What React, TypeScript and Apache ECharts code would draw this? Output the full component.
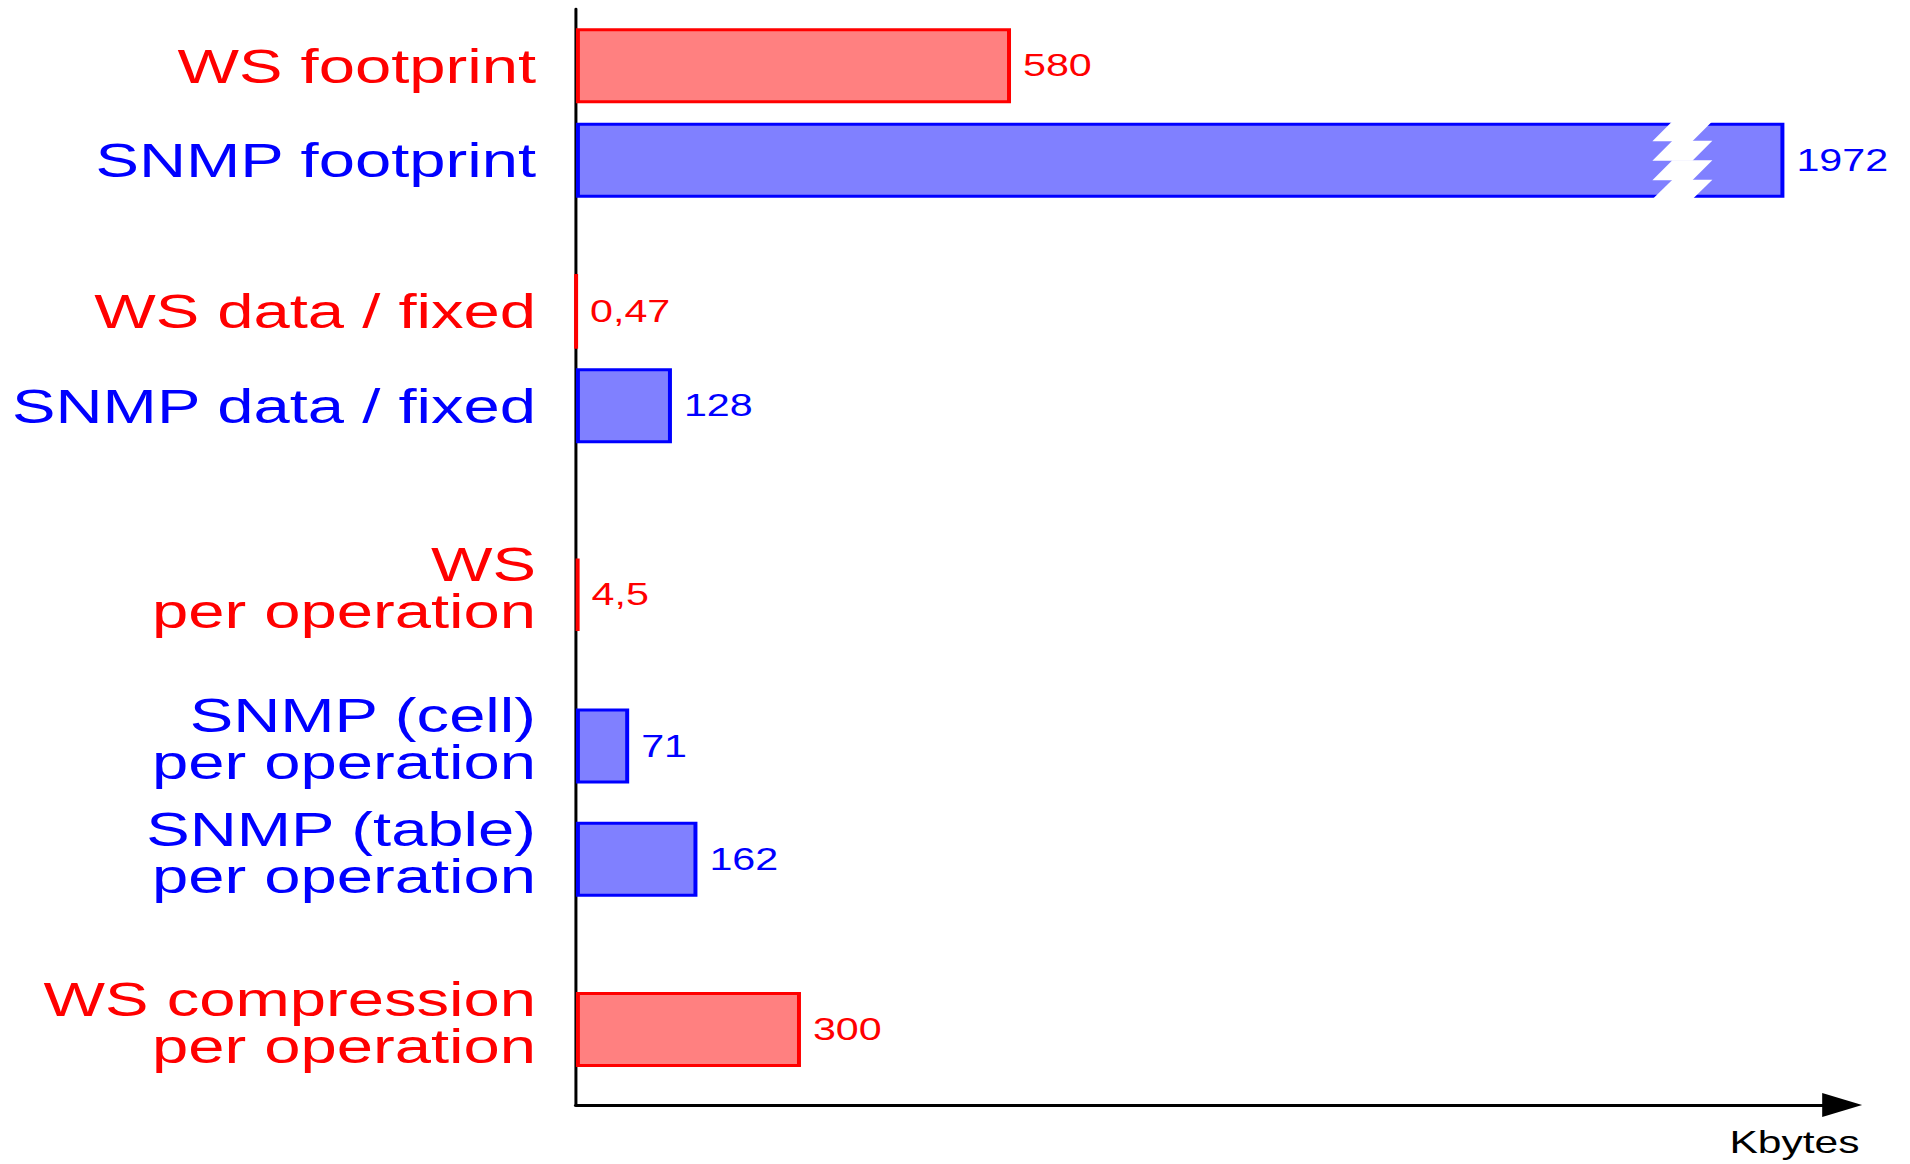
import React, { useEffect, useRef } from 'react';
import * as echarts from 'echarts';

// ---- data ----
const categories = [
  'WS footprint',
  'SNMP footprint',
  'WS data / fixed',
  'SNMP data / fixed',
  'WS\nper operation',
  'SNMP (cell)\nper operation',
  'SNMP (table)\nper operation',
  'WS compression\nper operation',
];
const groups = ['WS', 'SNMP', 'WS', 'SNMP', 'WS', 'SNMP', 'SNMP', 'WS'];
const values = [580, 1972, 0.47, 128, 4.5, 71, 162, 300];
const unitName = 'Kbytes';

// ---- layout (not data) ----
const rowSlots = [3, 8, 16, 21, 31, 39, 45, 54];
const slotCount = 59;
const axisBreak = { start: 1435, end: 1876, gap: 80 };
const xMax = 2049;
const BASE_W = 1436;
const BASE_H = 1164;
const S = 1910 / BASE_W;
const BAR_W = 75;
const BORDER = 3;
const FONT = "'Liberation Sans', Arial, Helvetica, sans-serif";

const palette: Record<string, { text: string; fill: string; border: string }> = {
  WS: { text: '#FF0000', fill: '#FF8080', border: '#FF0000' },
  SNMP: { text: '#0000FF', fill: '#8080FF', border: '#0000FF' },
};

export default function App() {
  const ref = useRef<HTMLDivElement>(null);

  useEffect(() => {
    if (!ref.current) return;
    const chart = echarts.init(ref.current, null, { renderer: 'svg' });

    const yData = Array.from({ length: slotCount }, (_, i) => {
      const k = rowSlots.indexOf(i);
      return k >= 0 ? categories[k] : `_${i}`;
    });

    const seriesData = Array.from({ length: slotCount }, (_, i) => {
      const k = rowSlots.indexOf(i);
      if (k < 0) return null;
      const p = palette[groups[k]];
      return {
        value: values[k],
        itemStyle: { color: p.fill, borderColor: p.border, borderWidth: BORDER },
        label: { color: p.text },
      };
    });

    const labelFormatter = (v: string) => {
      if (v.startsWith('_')) return '';
      const k = categories.indexOf(v);
      const g = groups[k] === 'WS' ? 'ws' : 'snmp';
      const lines = v.split('\n');
      let s = lines.map((l) => `{${g}|${l}}`).join('\n');
      if (lines.length > 1) s += '\n{sp| }';
      return s;
    };

    chart.setOption({
      animation: false,
      backgroundColor: '#ffffff',
      grid: { left: 433, right: 51, top: 9, bottom: 59, containLabel: false },
      xAxis: [
        {
          type: 'value',
          show: false,
          min: 0,
          max: xMax,
          breaks: [axisBreak],
          breakArea: { show: false, itemStyle: { opacity: 0, borderWidth: 0 } },
          splitLine: { show: false },
        },
        {
          type: 'value',
          position: 'bottom',
          min: 0,
          max: 1,
          axisLine: {
            show: true,
            onZero: false,
            lineStyle: { color: '#000000', width: 3 },
            symbol: ['none', 'triangle'],
            symbolSize: [24, 30],
          },
          axisTick: { show: false },
          axisLabel: { show: false },
          splitLine: { show: false },
          name: unitName,
          nameLocation: 'end',
          nameGap: 13,
          nameTextStyle: {
            color: '#000000',
            fontFamily: FONT,
            fontSize: 32,
            align: 'right',
            verticalAlign: 'top',
            padding: [21, 0, 0, 0],
          },
        },
      ],
      yAxis: {
        type: 'category',
        inverse: true,
        boundaryGap: false,
        data: yData,
        axisLine: { show: true, onZero: false, lineStyle: { color: '#000000', width: 3 / S } },
        axisTick: { show: false },
        splitLine: { show: false },
        axisLabel: {
          interval: 0,
          margin: 30,
          formatter: labelFormatter,
          rich: {
            ws: { color: palette.WS.text, fontFamily: FONT, fontSize: 49, lineHeight: 47 },
            snmp: { color: palette.SNMP.text, fontFamily: FONT, fontSize: 49, lineHeight: 47 },
            sp: { fontSize: 4, lineHeight: 14 },
          },
        },
      },
      series: [
        {
          type: 'bar',
          xAxisIndex: 0,
          yAxisIndex: 0,
          barWidth: BAR_W,
          data: seriesData,
          label: {
            show: true,
            position: 'right',
            distance: 9,
            fontFamily: FONT,
            fontSize: 31,
            formatter: (p: any) => String(p.value).replace('.', ','),
          },
        },
      ],
    });

    // break marker drawn on the broken bar, located through the axis scale
    const brokenIdx = values.indexOf(Math.max(...values));
    const x0 = chart.convertToPixel({ xAxisIndex: 0 }, axisBreak.start) as number;
    const x1 = chart.convertToPixel({ xAxisIndex: 0 }, axisBreak.end) as number;
    const yc = chart.convertToPixel({ yAxisIndex: 0 }, rowSlots[brokenIdx]) as number;
    const half = (BAR_W + BORDER) / 2;
    const segs = 4;
    const segH = (2 * half) / segs;
    const shear = (x1 - x0) / 3;
    const polys = [] as any[];
    for (let i = 0; i < segs; i++) {
      const yt = yc - half + i * segH;
      const yb = yt + segH + (i < segs - 1 ? 0.6 : 0);
      polys.push({
        type: 'polygon',
        z: 100,
        shape: {
          points: [
            [x0, yb],
            [x0 + shear, yt],
            [x1, yt],
            [x1 - shear, yb],
          ],
        },
        style: { fill: '#ffffff', stroke: null },
      });
    }
    chart.setOption({ graphic: { elements: polys } });

    return () => chart.dispose();
  }, []);

  return (
    <div
      ref={ref}
      style={{
        position: 'absolute',
        left: 0,
        top: 0,
        width: BASE_W,
        height: BASE_H,
        transform: `scaleX(${S})`,
        transformOrigin: '0 0',
        background: '#ffffff',
      }}
    />
  );
}
